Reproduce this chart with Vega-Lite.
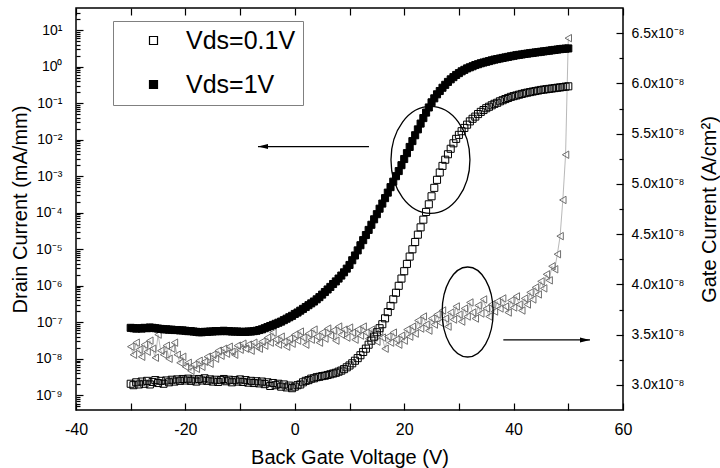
{
"$schema": "https://vega.github.io/schema/vega-lite/v6.json",
"width": 547,
"height": 402,
"autosize": "none",
"padding": {"left": 76, "top": 8, "right": 97, "bottom": 58},
"background": "white",
"config": {
 "font": "Liberation Sans",
 "view": {"stroke": "black", "strokeWidth": 1.5},
 "axis": {"labelFont": "Liberation Sans", "labelFontSize": 14, "labelColor": "black", "titleFont": "Liberation Sans", "titleFontSize": 20, "titleFontWeight": "normal", "titleColor": "black", "domain": false, "ticks": true, "tickColor": "black", "tickWidth": 1.2, "grid": false, "labelOverlap": false, "labelFlush": false}
},
"datasets": {
 "iv": [
{"Vg":-30,"Id01":2.09e-9,"Id1":7.08e-8,"Ig":3.38e-8},
{"Vg":-29.5,"Id01":1.91e-9,"Id1":6.92e-8,"Ig":3.30e-8},
{"Vg":-29,"Id01":2.29e-9,"Id1":6.76e-8,"Ig":3.42e-8},
{"Vg":-28.5,"Id01":2.0e-9,"Id1":6.92e-8,"Ig":3.35e-8},
{"Vg":-28,"Id01":2.4e-9,"Id1":6.76e-8,"Ig":3.28e-8},
{"Vg":-27.5,"Id01":2.09e-9,"Id1":7.08e-8,"Ig":3.40e-8},
{"Vg":-27,"Id01":2.51e-9,"Id1":6.92e-8,"Ig":3.33e-8},
{"Vg":-26.5,"Id01":2.0e-9,"Id1":7.24e-8,"Ig":3.44e-8},
{"Vg":-26,"Id01":2.34e-9,"Id1":7.08e-8,"Ig":3.36e-8},
{"Vg":-25.5,"Id01":2.63e-9,"Id1":6.92e-8,"Ig":3.27e-8},
{"Vg":-25,"Id01":2.19e-9,"Id1":6.76e-8,"Ig":3.50e-8},
{"Vg":-24.5,"Id01":2.51e-9,"Id1":6.61e-8,"Ig":3.34e-8},
{"Vg":-24,"Id01":2.09e-9,"Id1":6.46e-8,"Ig":3.30e-8},
{"Vg":-23.5,"Id01":2.57e-9,"Id1":6.46e-8,"Ig":3.39e-8},
{"Vg":-23,"Id01":2.29e-9,"Id1":6.31e-8,"Ig":3.26e-8},
{"Vg":-22.5,"Id01":2.69e-9,"Id1":6.31e-8,"Ig":3.36e-8},
{"Vg":-22,"Id01":2.4e-9,"Id1":6.17e-8,"Ig":3.42e-8},
{"Vg":-21.5,"Id01":2.75e-9,"Id1":6.17e-8,"Ig":3.30e-8},
{"Vg":-21,"Id01":2.51e-9,"Id1":6.03e-8,"Ig":3.22e-8},
{"Vg":-20.5,"Id01":2.82e-9,"Id1":6.03e-8,"Ig":3.28e-8},
{"Vg":-20,"Id01":2.57e-9,"Id1":5.89e-8,"Ig":3.18e-8},
{"Vg":-19.5,"Id01":2.88e-9,"Id1":5.75e-8,"Ig":3.22e-8},
{"Vg":-19,"Id01":2.51e-9,"Id1":5.75e-8,"Ig":3.14e-8},
{"Vg":-18.5,"Id01":2.75e-9,"Id1":5.62e-8,"Ig":3.20e-8},
{"Vg":-18,"Id01":2.4e-9,"Id1":5.5e-8,"Ig":3.16e-8},
{"Vg":-17.5,"Id01":2.82e-9,"Id1":5.37e-8,"Ig":3.24e-8},
{"Vg":-17,"Id01":2.57e-9,"Id1":5.37e-8,"Ig":3.18e-8},
{"Vg":-16.5,"Id01":2.95e-9,"Id1":5.5e-8,"Ig":3.23e-8},
{"Vg":-16,"Id01":2.51e-9,"Id1":5.5e-8,"Ig":3.28e-8},
{"Vg":-15.5,"Id01":2.75e-9,"Id1":5.62e-8,"Ig":3.21e-8},
{"Vg":-15,"Id01":2.4e-9,"Id1":5.62e-8,"Ig":3.30e-8},
{"Vg":-14.5,"Id01":2.69e-9,"Id1":5.75e-8,"Ig":3.26e-8},
{"Vg":-14,"Id01":2.34e-9,"Id1":5.75e-8,"Ig":3.34e-8},
{"Vg":-13.5,"Id01":2.63e-9,"Id1":5.75e-8,"Ig":3.29e-8},
{"Vg":-13,"Id01":2.82e-9,"Id1":5.89e-8,"Ig":3.36e-8},
{"Vg":-12.5,"Id01":2.45e-9,"Id1":5.75e-8,"Ig":3.31e-8},
{"Vg":-12,"Id01":2.69e-9,"Id1":5.75e-8,"Ig":3.38e-8},
{"Vg":-11.5,"Id01":2.29e-9,"Id1":5.62e-8,"Ig":3.33e-8},
{"Vg":-11,"Id01":2.63e-9,"Id1":5.62e-8,"Ig":3.30e-8},
{"Vg":-10.5,"Id01":2.4e-9,"Id1":5.62e-8,"Ig":3.39e-8},
{"Vg":-10,"Id01":2.75e-9,"Id1":5.5e-8,"Ig":3.35e-8},
{"Vg":-9.5,"Id01":2.34e-9,"Id1":5.5e-8,"Ig":3.41e-8},
{"Vg":-9,"Id01":2.63e-9,"Id1":5.5e-8,"Ig":3.36e-8},
{"Vg":-8.5,"Id01":2.24e-9,"Id1":5.62e-8,"Ig":3.40e-8},
{"Vg":-8,"Id01":2.51e-9,"Id1":5.62e-8,"Ig":3.34e-8},
{"Vg":-7.5,"Id01":2.19e-9,"Id1":5.75e-8,"Ig":3.42e-8},
{"Vg":-7,"Id01":2.45e-9,"Id1":5.89e-8,"Ig":3.38e-8},
{"Vg":-6.5,"Id01":2.14e-9,"Id1":6.17e-8,"Ig":3.36e-8},
{"Vg":-6,"Id01":2.4e-9,"Id1":6.46e-8,"Ig":3.43e-8},
{"Vg":-5.5,"Id01":2.04e-9,"Id1":6.92e-8,"Ig":3.39e-8},
{"Vg":-5,"Id01":2.29e-9,"Id1":7.41e-8,"Ig":3.47e-8},
{"Vg":-4.5,"Id01":1.82e-9,"Id1":7.94e-8,"Ig":3.42e-8},
{"Vg":-4,"Id01":2.19e-9,"Id1":8.51e-8,"Ig":3.52e-8},
{"Vg":-3.5,"Id01":1.91e-9,"Id1":9.12e-8,"Ig":3.45e-8},
{"Vg":-3,"Id01":2.09e-9,"Id1":9.77e-8,"Ig":3.40e-8},
{"Vg":-2.5,"Id01":1.74e-9,"Id1":1.05e-7,"Ig":3.48e-8},
{"Vg":-2,"Id01":2.0e-9,"Id1":1.15e-7,"Ig":3.43e-8},
{"Vg":-1.5,"Id01":1.66e-9,"Id1":1.26e-7,"Ig":3.38e-8},
{"Vg":-1,"Id01":1.86e-9,"Id1":1.38e-7,"Ig":3.46e-8},
{"Vg":-0.5,"Id01":1.58e-9,"Id1":1.51e-7,"Ig":3.41e-8},
{"Vg":0,"Id01":1.74e-9,"Id1":1.7e-7,"Ig":3.50e-8},
{"Vg":0.5,"Id01":1.91e-9,"Id1":1.86e-7,"Ig":3.44e-8},
{"Vg":1,"Id01":2.0e-9,"Id1":2.09e-7,"Ig":3.53e-8},
{"Vg":1.5,"Id01":2.29e-9,"Id1":2.34e-7,"Ig":3.47e-8},
{"Vg":2,"Id01":2.51e-9,"Id1":2.63e-7,"Ig":3.40e-8},
{"Vg":2.5,"Id01":2.63e-9,"Id1":2.95e-7,"Ig":3.51e-8},
{"Vg":3,"Id01":2.88e-9,"Id1":3.31e-7,"Ig":3.45e-8},
{"Vg":3.5,"Id01":2.95e-9,"Id1":3.72e-7,"Ig":3.55e-8},
{"Vg":4,"Id01":3.16e-9,"Id1":4.27e-7,"Ig":3.48e-8},
{"Vg":4.5,"Id01":3.24e-9,"Id1":4.9e-7,"Ig":3.42e-8},
{"Vg":5,"Id01":3.39e-9,"Id1":5.75e-7,"Ig":3.52e-8},
{"Vg":5.5,"Id01":3.47e-9,"Id1":6.76e-7,"Ig":3.46e-8},
{"Vg":6,"Id01":3.63e-9,"Id1":7.94e-7,"Ig":3.56e-8},
{"Vg":6.5,"Id01":3.8e-9,"Id1":9.33e-7,"Ig":3.49e-8},
{"Vg":7,"Id01":3.98e-9,"Id1":1.12e-6,"Ig":3.54e-8},
{"Vg":7.5,"Id01":4.17e-9,"Id1":1.32e-6,"Ig":3.44e-8},
{"Vg":8,"Id01":4.47e-9,"Id1":1.58e-6,"Ig":3.58e-8},
{"Vg":8.5,"Id01":4.79e-9,"Id1":1.91e-6,"Ig":3.50e-8},
{"Vg":9,"Id01":5.25e-9,"Id1":2.34e-6,"Ig":3.55e-8},
{"Vg":9.5,"Id01":5.89e-9,"Id1":2.95e-6,"Ig":3.47e-8},
{"Vg":10,"Id01":6.61e-9,"Id1":3.72e-6,"Ig":3.57e-8},
{"Vg":10.5,"Id01":7.59e-9,"Id1":5.01e-6,"Ig":3.52e-8},
{"Vg":11,"Id01":8.91e-9,"Id1":6.76e-6,"Ig":3.45e-8},
{"Vg":11.5,"Id01":1.05e-8,"Id1":9.33e-6,"Ig":3.55e-8},
{"Vg":12,"Id01":1.26e-8,"Id1":1.29e-5,"Ig":3.49e-8},
{"Vg":12.5,"Id01":1.55e-8,"Id1":1.78e-5,"Ig":3.58e-8},
{"Vg":13,"Id01":1.91e-8,"Id1":2.45e-5,"Ig":3.52e-8},
{"Vg":13.5,"Id01":2.45e-8,"Id1":3.39e-5,"Ig":3.46e-8},
{"Vg":14,"Id01":3.16e-8,"Id1":4.68e-5,"Ig":3.55e-8},
{"Vg":14.5,"Id01":4.07e-8,"Id1":6.61e-5,"Ig":3.50e-8},
{"Vg":15,"Id01":5.37e-8,"Id1":9.12e-5,"Ig":3.43e-8},
{"Vg":15.5,"Id01":6.92e-8,"Id1":1.29e-4,"Ig":3.53e-8},
{"Vg":16,"Id01":8.91e-8,"Id1":1.78e-4,"Ig":3.47e-8},
{"Vg":16.5,"Id01":1.29e-7,"Id1":2.51e-4,"Ig":3.36e-8},
{"Vg":17,"Id01":1.91e-7,"Id1":3.55e-4,"Ig":3.48e-8},
{"Vg":17.5,"Id01":2.82e-7,"Id1":5.01e-4,"Ig":3.42e-8},
{"Vg":18,"Id01":4.27e-7,"Id1":7.08e-4,"Ig":3.52e-8},
{"Vg":18.5,"Id01":6.46e-7,"Id1":1.0e-3,"Ig":3.45e-8},
{"Vg":19,"Id01":1.0e-6,"Id1":1.38e-3,"Ig":3.40e-8},
{"Vg":19.5,"Id01":1.58e-6,"Id1":2.0e-3,"Ig":3.49e-8},
{"Vg":20,"Id01":2.51e-6,"Id1":2.95e-3,"Ig":3.44e-8},
{"Vg":20.5,"Id01":3.98e-6,"Id1":4.27e-3,"Ig":3.55e-8},
{"Vg":21,"Id01":6.31e-6,"Id1":6.31e-3,"Ig":3.48e-8},
{"Vg":21.5,"Id01":1.0e-5,"Id1":9.12e-3,"Ig":3.58e-8},
{"Vg":22,"Id01":1.58e-5,"Id1":1.32e-2,"Ig":3.51e-8},
{"Vg":22.5,"Id01":2.51e-5,"Id1":1.91e-2,"Ig":3.64e-8},
{"Vg":23,"Id01":3.98e-5,"Id1":2.75e-2,"Ig":3.56e-8},
{"Vg":23.5,"Id01":6.46e-5,"Id1":3.89e-2,"Ig":3.68e-8},
{"Vg":24,"Id01":1.05e-4,"Id1":5.5e-2,"Ig":3.60e-8},
{"Vg":24.5,"Id01":1.7e-4,"Id1":7.59e-2,"Ig":3.54e-8},
{"Vg":25,"Id01":2.82e-4,"Id1":0.105,"Ig":3.66e-8},
{"Vg":25.5,"Id01":4.79e-4,"Id1":0.135,"Ig":3.60e-8},
{"Vg":26,"Id01":7.94e-4,"Id1":0.174,"Ig":3.70e-8},
{"Vg":26.5,"Id01":1.26e-3,"Id1":0.214,"Ig":3.62e-8},
{"Vg":27,"Id01":1.91e-3,"Id1":0.263,"Ig":3.74e-8},
{"Vg":27.5,"Id01":2.82e-3,"Id1":0.316,"Ig":3.66e-8},
{"Vg":28,"Id01":3.98e-3,"Id1":0.38,"Ig":3.58e-8},
{"Vg":28.5,"Id01":5.62e-3,"Id1":0.447,"Ig":3.72e-8},
{"Vg":29,"Id01":7.94e-3,"Id1":0.513,"Ig":3.65e-8},
{"Vg":29.5,"Id01":1.05e-2,"Id1":0.589,"Ig":3.78e-8},
{"Vg":30,"Id01":1.35e-2,"Id1":0.661,"Ig":3.70e-8},
{"Vg":30.5,"Id01":1.7e-2,"Id1":0.741,"Ig":3.63e-8},
{"Vg":31,"Id01":2.09e-2,"Id1":0.813,"Ig":3.76e-8},
{"Vg":31.5,"Id01":2.57e-2,"Id1":0.891,"Ig":3.68e-8},
{"Vg":32,"Id01":3.16e-2,"Id1":0.955,"Ig":3.82e-8},
{"Vg":32.5,"Id01":3.72e-2,"Id1":1.02,"Ig":3.72e-8},
{"Vg":33,"Id01":4.27e-2,"Id1":1.10,"Ig":3.66e-8},
{"Vg":33.5,"Id01":5.01e-2,"Id1":1.16,"Ig":3.79e-8},
{"Vg":34,"Id01":5.75e-2,"Id1":1.23,"Ig":3.71e-8},
{"Vg":34.5,"Id01":6.46e-2,"Id1":1.29,"Ig":3.85e-8},
{"Vg":35,"Id01":7.24e-2,"Id1":1.35,"Ig":3.76e-8},
{"Vg":35.5,"Id01":7.94e-2,"Id1":1.41,"Ig":3.68e-8},
{"Vg":36,"Id01":8.71e-2,"Id1":1.48,"Ig":3.80e-8},
{"Vg":36.5,"Id01":9.55e-2,"Id1":1.55,"Ig":3.73e-8},
{"Vg":37,"Id01":0.102,"Id1":1.60,"Ig":3.83e-8},
{"Vg":37.5,"Id01":0.112,"Id1":1.66,"Ig":3.76e-8},
{"Vg":38,"Id01":0.12,"Id1":1.72,"Ig":3.86e-8},
{"Vg":38.5,"Id01":0.129,"Id1":1.78,"Ig":3.78e-8},
{"Vg":39,"Id01":0.138,"Id1":1.84,"Ig":3.72e-8},
{"Vg":39.5,"Id01":0.148,"Id1":1.91,"Ig":3.84e-8},
{"Vg":40,"Id01":0.155,"Id1":1.97,"Ig":3.77e-8},
{"Vg":40.5,"Id01":0.162,"Id1":2.04,"Ig":3.88e-8},
{"Vg":41,"Id01":0.17,"Id1":2.09,"Ig":3.80e-8},
{"Vg":41.5,"Id01":0.178,"Id1":2.14,"Ig":3.74e-8},
{"Vg":42,"Id01":0.186,"Id1":2.21,"Ig":3.86e-8},
{"Vg":42.5,"Id01":0.193,"Id1":2.26,"Ig":3.80e-8},
{"Vg":43,"Id01":0.2,"Id1":2.32,"Ig":3.92e-8},
{"Vg":43.5,"Id01":0.207,"Id1":2.37,"Ig":3.85e-8},
{"Vg":44,"Id01":0.214,"Id1":2.43,"Ig":3.97e-8},
{"Vg":44.5,"Id01":0.221,"Id1":2.48,"Ig":3.90e-8},
{"Vg":45,"Id01":0.229,"Id1":2.54,"Ig":4.03e-8},
{"Vg":45.5,"Id01":0.234,"Id1":2.60,"Ig":3.96e-8},
{"Vg":46,"Id01":0.24,"Id1":2.66,"Ig":4.10e-8},
{"Vg":46.5,"Id01":0.245,"Id1":2.72,"Ig":4.04e-8},
{"Vg":47,"Id01":0.251,"Id1":2.79,"Ig":4.18e-8},
{"Vg":47.5,"Id01":0.257,"Id1":2.85,"Ig":4.15e-8},
{"Vg":48,"Id01":0.263,"Id1":2.92,"Ig":4.30e-8},
{"Vg":48.5,"Id01":0.269,"Id1":2.99,"Ig":4.48e-8},
{"Vg":49,"Id01":0.275,"Id1":3.05,"Ig":4.84e-8},
{"Vg":49.5,"Id01":0.282,"Id1":3.09,"Ig":5.29e-8},
{"Vg":50,"Id01":0.288,"Id1":3.13,"Ig":6.45e-8}
 ]
},
"layer": [
 {
  "data": {"name": "iv"},
  "mark": {"type": "line", "color": "#9a9a9a", "strokeWidth": 0.7},
  "encoding": {
   "x": {"field": "Vg", "type": "quantitative", "scale": {"domain": [-40, 60], "nice": false, "zero": false},
    "axis": {"orient": "top", "values": [-40,-30,-20,-10,0,10,20,30,40,50,60], "labels": false, "offset": -7, "tickSize": 7, "title": null}},
   "y": {"field": "Ig", "type": "quantitative", "scale": {"domain": [2.75e-8, 6.75e-8], "nice": false, "zero": false},
    "axis": {"orient": "right", "values": [3.0e-8,3.5e-8,4.0e-8,4.5e-8,5.0e-8,5.5e-8,6.0e-8,6.5e-8], "offset": -7, "tickSize": 7, "labelPadding": 8,
     "labelExpr": "format(datum.value*1e8, '.1f') + 'x10⁻⁸'",
     "title": "Gate Current (A/cm²)", "titleAngle": 270, "titleX": 93, "titleY": 201, "titleAlign": "center", "titleBaseline": "middle"}}
  }
 },
 {
  "data": {"name": "iv"},
  "mark": {"type": "point", "shape": "triangle-left", "filled": false, "color": "#6e6e6e", "strokeWidth": 1, "size": 55, "opacity": 1},
  "encoding": {
   "x": {"field": "Vg", "type": "quantitative", "scale": {"domain": [-40, 60], "nice": false, "zero": false}, "axis": null},
   "y": {"field": "Ig", "type": "quantitative", "scale": {"domain": [2.75e-8, 6.75e-8], "nice": false, "zero": false},
    "axis": {"orient": "right", "values": [3.25e-8,3.75e-8,4.25e-8,4.75e-8,5.25e-8,5.75e-8,6.25e-8], "labels": false, "offset": -4, "tickSize": 4, "title": null}}
  }
 },
 {
  "data": {"name": "iv"},
  "transform": [{"fold": ["Id01", "Id1"], "as": ["series", "current"]}],
  "mark": {"type": "point", "shape": "square", "filled": true, "size": 50, "stroke": "black", "strokeWidth": 1, "opacity": 1},
  "encoding": {
   "x": {"field": "Vg", "type": "quantitative", "scale": {"domain": [-40, 60], "nice": false, "zero": false},
    "axis": {"orient": "bottom", "values": [-40,-30,-20,-10,0,10,20,30,40,50,60], "offset": -7, "tickSize": 7, "labelPadding": 11, "labelFontSize": 16,
     "labelExpr": "datum.value % 20 == 0 ? '' + datum.value : ''",
     "title": "Back Gate Voltage (V)", "titleY": 54, "titleBaseline": "middle"}},
   "y": {"field": "current", "type": "quantitative", "scale": {"type": "log", "domain": [4e-10, 40], "nice": false},
    "axis": {"orient": "left", "values": [1e-9,1e-8,1e-7,1e-6,1e-5,1e-4,1e-3,1e-2,1e-1,1,10], "offset": -7, "tickSize": 7, "labelPadding": 14,
     "labelExpr": "'10' + ['⁻⁹','⁻⁸','⁻⁷','⁻⁶','⁻⁵','⁻⁴','⁻³','⁻²','⁻¹','⁰','¹'][round(log(datum.value)/LN10) + 9]",
     "title": "Drain Current (mA/mm)", "titleAngle": 270, "titleX": -63, "titleY": 201, "titleAlign": "center", "titleBaseline": "middle"}},
   "fill": {"field": "series", "type": "nominal", "scale": {"domain": ["Id01", "Id1"], "range": ["transparent", "black"]},
    "legend": {"orient": "none", "legendX": 37, "legendY": 13, "title": null, "strokeColor": "#808080", "padding": 7,
     "symbolType": "square", "symbolSize": 64, "symbolStrokeColor": "black", "symbolStrokeWidth": 1.2, "symbolOffset": 21,
     "labelFont": "Liberation Sans", "labelFontSize": 25, "labelColor": "black", "labelOffset": 20, "rowPadding": 18,
     "labelExpr": "datum.value == 'Id01' ? 'Vds=0.1V' : 'Vds=1V'"}}
  }
 },
 {
  "data": {"values": [{"Vg": 24.8, "Id": 2.8e-3}]},
  "mark": {"type": "point", "shape": "M0.738,0 C0.738,0.5523 0.4076,1 0,1 C-0.4076,1 -0.738,0.5523 -0.738,0 C-0.738,-0.5523 -0.4076,-1 0,-1 C0.4076,-1 0.738,-0.5523 0.738,0 Z", "size": 11449, "filled": false, "color": "black", "strokeWidth": 1.3, "opacity": 1},
  "encoding": {
   "x": {"field": "Vg", "type": "quantitative", "scale": {"domain": [-40, 60], "nice": false, "zero": false}, "axis": null},
   "y": {"field": "Id", "type": "quantitative", "scale": {"type": "log", "domain": [4e-10, 40], "nice": false},
    "axis": {"orient": "left", "values": [5e-10,6e-10,7e-10,8e-10,9e-10,2e-9,3e-9,4e-9,5e-9,6e-9,7e-9,8e-9,9e-9,2e-8,3e-8,4e-8,5e-8,6e-8,7e-8,8e-8,9e-8,2e-7,3e-7,4e-7,5e-7,6e-7,7e-7,8e-7,9e-7,2e-6,3e-6,4e-6,5e-6,6e-6,7e-6,8e-6,9e-6,2e-5,3e-5,4e-5,5e-5,6e-5,7e-5,8e-5,9e-5,2e-4,3e-4,4e-4,5e-4,6e-4,7e-4,8e-4,9e-4,2e-3,3e-3,4e-3,5e-3,6e-3,7e-3,8e-3,9e-3,2e-2,3e-2,4e-2,5e-2,6e-2,7e-2,8e-2,9e-2,0.2,0.3,0.4,0.5,0.6,0.7,0.8,0.9,2,3,4,5,6,7,8,9,20,30], "labels": false, "offset": -4, "tickSize": 4, "title": null}}
  }
 },
 {
  "data": {"values": [{"from": 13.56, "to": -6.73, "Id": 6.46e-3}]},
  "mark": {"type": "rule", "color": "black", "strokeWidth": 1.2},
  "encoding": {
   "x": {"field": "from", "type": "quantitative", "scale": {"domain": [-40, 60], "nice": false, "zero": false}, "axis": null},
   "x2": {"field": "to"},
   "y": {"field": "Id", "type": "quantitative", "scale": {"type": "log", "domain": [4e-10, 40], "nice": false}, "axis": null}
  }
 },
 {
  "data": {"values": [{"to": -6.73, "Id": 6.46e-3}]},
  "mark": {"type": "point", "shape": "M0,0 L1,-0.25 L1,0.25 Z", "size": 400, "filled": true, "color": "black", "opacity": 1},
  "encoding": {
   "x": {"field": "to", "type": "quantitative", "scale": {"domain": [-40, 60], "nice": false, "zero": false}, "axis": null},
   "y": {"field": "Id", "type": "quantitative", "scale": {"type": "log", "domain": [4e-10, 40], "nice": false}, "axis": null}
  }
 },
 {
  "data": {"values": [{"Vg": 31.6, "Ig": 3.725e-8}]},
  "mark": {"type": "point", "shape": "M0.567,0 C0.567,0.5523 0.3131,1 0,1 C-0.3131,1 -0.567,0.5523 -0.567,0 C-0.567,-0.5523 -0.3131,-1 0,-1 C0.3131,-1 0.567,-0.5523 0.567,0 Z", "size": 8100, "filled": false, "color": "black", "strokeWidth": 1.3, "opacity": 1},
  "encoding": {
   "x": {"field": "Vg", "type": "quantitative", "scale": {"domain": [-40, 60], "nice": false, "zero": false}, "axis": null},
   "y": {"field": "Ig", "type": "quantitative", "scale": {"domain": [2.75e-8, 6.75e-8], "nice": false, "zero": false}, "axis": null}
  }
 },
 {
  "data": {"values": [{"from": 38.12, "to": 53.97, "Ig": 3.447e-8}]},
  "mark": {"type": "rule", "color": "black", "strokeWidth": 1.2},
  "encoding": {
   "x": {"field": "from", "type": "quantitative", "scale": {"domain": [-40, 60], "nice": false, "zero": false}, "axis": null},
   "x2": {"field": "to"},
   "y": {"field": "Ig", "type": "quantitative", "scale": {"domain": [2.75e-8, 6.75e-8], "nice": false, "zero": false}, "axis": null}
  }
 },
 {
  "data": {"values": [{"to": 53.97, "Ig": 3.447e-8}]},
  "mark": {"type": "point", "shape": "M0,0 L-1,-0.25 L-1,0.25 Z", "size": 400, "filled": true, "color": "black", "opacity": 1},
  "encoding": {
   "x": {"field": "to", "type": "quantitative", "scale": {"domain": [-40, 60], "nice": false, "zero": false}, "axis": null},
   "y": {"field": "Ig", "type": "quantitative", "scale": {"domain": [2.75e-8, 6.75e-8], "nice": false, "zero": false}, "axis": null}
  }
 }
],
"resolve": {"scale": {"x": "independent", "y": "independent"}, "axis": {"x": "independent", "y": "independent"}}
}
